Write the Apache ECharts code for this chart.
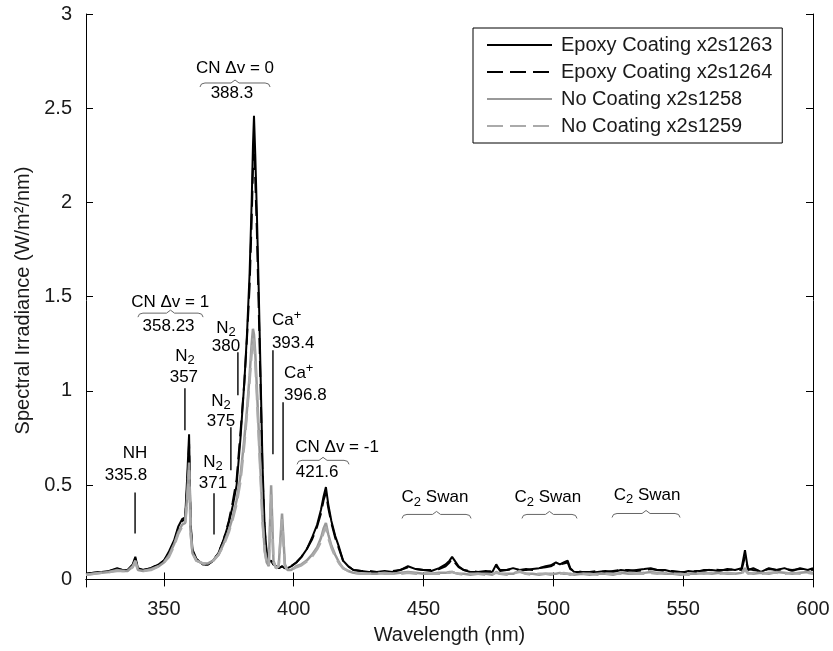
<!DOCTYPE html>
<html>
<head>
<meta charset="utf-8">
<script src="https://cdn.jsdelivr.net/npm/echarts@6/dist/echarts.min.js"></script>
<style>
  html, body { margin: 0; padding: 0; background: #fff; }
  #chart { width: 833px; height: 651px; }
</style>
</head>
<body>
<div id="chart"></div>
<script>
  // wavelength grid (nm), shared by all four spectra
  var wavelength = [
    320, 323, 326, 329, 332, 334, 336, 338, 339, 340,
    342, 345, 348, 350, 352, 354, 355.5, 357, 358.2, 359,
    359.7, 360.3, 361, 362.5, 365, 367, 369, 371, 373, 375,
    376.5, 378, 379.5, 381, 382, 383, 383.8, 384.3, 384.7, 385.2,
    385.8, 386.5, 387.3, 388, 388.8, 389.6, 390.4, 391.3, 392.2, 393.2,
    394.2, 395.5, 396.6, 397.6, 399, 401, 403, 405, 407, 409,
    410.5, 411.5, 412.4, 413.3, 414.5, 416, 417.5, 419, 421, 423,
    426, 429, 432, 435, 438, 441, 444, 447, 450, 453,
    456, 458.5, 460, 461, 462, 463.5, 465.5, 468, 471, 474,
    476.5, 478, 479.5, 482, 484.5, 487, 489.5, 492, 494.5, 497,
    499, 501, 502.5, 504, 505.5, 506.5, 508, 511, 514, 517,
    520, 523, 526, 529, 532, 535, 537.5, 540, 543, 546,
    549, 552, 555, 558, 561, 564, 567, 570, 572.5, 573.8,
    575, 577, 580, 583, 586, 589, 592, 595, 598, 600
  ];

  var epoxy1263 = [
    0.03, 0.035, 0.04, 0.045, 0.06, 0.05, 0.05, 0.08, 0.12, 0.06,
    0.05, 0.06, 0.08, 0.10, 0.15, 0.21, 0.28, 0.32, 0.33, 0.55,
    0.77, 0.30, 0.16, 0.11, 0.08, 0.08, 0.10, 0.14, 0.21, 0.30,
    0.39, 0.50, 0.75, 1.05, 1.30, 1.62, 2.00, 2.30, 2.46, 2.25,
    1.95, 1.55, 1.05, 0.60, 0.28, 0.14, 0.09, 0.10, 0.08, 0.07,
    0.06, 0.07, 0.06, 0.06, 0.07, 0.09, 0.12, 0.16, 0.22, 0.29,
    0.37, 0.44, 0.49, 0.40, 0.31, 0.23, 0.17, 0.10, 0.07, 0.05,
    0.045, 0.04, 0.04, 0.045, 0.04, 0.05, 0.07, 0.055, 0.05, 0.045,
    0.06, 0.08, 0.10, 0.12, 0.10, 0.07, 0.05, 0.04, 0.04, 0.045,
    0.04, 0.08, 0.045, 0.05, 0.06, 0.05, 0.05, 0.055, 0.06, 0.07,
    0.075, 0.09, 0.08, 0.09, 0.10, 0.06, 0.04, 0.04, 0.035, 0.04,
    0.045, 0.04, 0.05, 0.045, 0.05, 0.055, 0.06, 0.05, 0.05, 0.04,
    0.035, 0.045, 0.04, 0.05, 0.05, 0.045, 0.055, 0.05, 0.06, 0.155,
    0.05, 0.06, 0.04, 0.06, 0.05, 0.06, 0.045, 0.06, 0.05, 0.06
  ];

  var epoxy1264 = [
    0.03, 0.035, 0.04, 0.045, 0.055, 0.05, 0.05, 0.075, 0.11, 0.055,
    0.05, 0.06, 0.08, 0.10, 0.14, 0.20, 0.27, 0.31, 0.32, 0.50,
    0.72, 0.28, 0.15, 0.105, 0.08, 0.08, 0.10, 0.14, 0.21, 0.31,
    0.41, 0.53, 0.78, 1.05, 1.28, 1.55, 1.90, 2.18, 2.30, 2.12,
    1.85, 1.45, 0.98, 0.55, 0.26, 0.13, 0.09, 0.10, 0.08, 0.07,
    0.06, 0.07, 0.06, 0.06, 0.07, 0.09, 0.12, 0.16, 0.21, 0.28,
    0.35, 0.42, 0.46, 0.38, 0.30, 0.22, 0.16, 0.10, 0.07, 0.05,
    0.045, 0.045, 0.04, 0.04, 0.045, 0.05, 0.065, 0.055, 0.05, 0.05,
    0.055, 0.07, 0.09, 0.11, 0.09, 0.065, 0.05, 0.045, 0.04, 0.04,
    0.045, 0.07, 0.05, 0.05, 0.055, 0.05, 0.055, 0.05, 0.06, 0.065,
    0.07, 0.085, 0.08, 0.085, 0.09, 0.055, 0.045, 0.04, 0.04, 0.045,
    0.04, 0.045, 0.05, 0.05, 0.045, 0.05, 0.055, 0.05, 0.045, 0.045,
    0.04, 0.04, 0.045, 0.045, 0.055, 0.05, 0.05, 0.055, 0.05, 0.12,
    0.055, 0.05, 0.045, 0.055, 0.05, 0.055, 0.05, 0.055, 0.055, 0.05
  ];

  var bare1258 = [
    0.025, 0.03, 0.035, 0.04, 0.05, 0.045, 0.045, 0.07, 0.10, 0.05,
    0.045, 0.055, 0.07, 0.09, 0.13, 0.19, 0.25, 0.29, 0.30, 0.45,
    0.62, 0.25, 0.14, 0.10, 0.085, 0.085, 0.10, 0.13, 0.19, 0.26,
    0.33, 0.42, 0.55, 0.75, 0.90, 1.08, 1.25, 1.33, 1.30, 1.20,
    1.02, 0.80, 0.55, 0.32, 0.16, 0.09, 0.07, 0.50, 0.10, 0.06,
    0.07, 0.35, 0.08, 0.05, 0.05, 0.07, 0.08, 0.10, 0.13, 0.17,
    0.22, 0.27, 0.30, 0.24, 0.18, 0.13, 0.09, 0.06, 0.045, 0.035,
    0.03, 0.03, 0.03, 0.035, 0.03, 0.035, 0.04, 0.035, 0.03, 0.03,
    0.035, 0.035, 0.04, 0.04, 0.035, 0.03, 0.03, 0.025, 0.03, 0.03,
    0.025, 0.04, 0.03, 0.03, 0.03, 0.045, 0.03, 0.03, 0.025, 0.03,
    0.03, 0.03, 0.035, 0.03, 0.03, 0.03, 0.025, 0.03, 0.025, 0.03,
    0.03, 0.025, 0.035, 0.03, 0.03, 0.035, 0.04, 0.035, 0.03, 0.03,
    0.025, 0.03, 0.03, 0.035, 0.03, 0.035, 0.03, 0.03, 0.035, 0.06,
    0.035, 0.03, 0.035, 0.03, 0.04, 0.035, 0.03, 0.035, 0.04, 0.035
  ];

  var bare1259 = [
    0.025, 0.03, 0.035, 0.04, 0.045, 0.045, 0.045, 0.065, 0.095, 0.05,
    0.045, 0.05, 0.07, 0.09, 0.12, 0.18, 0.24, 0.28, 0.29, 0.42,
    0.58, 0.24, 0.14, 0.10, 0.085, 0.085, 0.10, 0.13, 0.18, 0.25,
    0.32, 0.40, 0.52, 0.72, 0.88, 1.05, 1.20, 1.28, 1.26, 1.15,
    0.98, 0.76, 0.52, 0.30, 0.15, 0.09, 0.07, 0.45, 0.09, 0.06,
    0.07, 0.32, 0.07, 0.05, 0.05, 0.065, 0.075, 0.095, 0.12, 0.16,
    0.20, 0.25, 0.28, 0.22, 0.17, 0.12, 0.085, 0.06, 0.045, 0.035,
    0.03, 0.03, 0.035, 0.03, 0.03, 0.03, 0.035, 0.03, 0.035, 0.03,
    0.03, 0.035, 0.035, 0.04, 0.035, 0.03, 0.025, 0.03, 0.03, 0.025,
    0.03, 0.035, 0.03, 0.025, 0.035, 0.04, 0.03, 0.025, 0.03, 0.03,
    0.025, 0.03, 0.03, 0.035, 0.03, 0.025, 0.03, 0.03, 0.03, 0.025,
    0.03, 0.03, 0.03, 0.035, 0.03, 0.03, 0.035, 0.03, 0.035, 0.03,
    0.03, 0.025, 0.035, 0.03, 0.035, 0.03, 0.035, 0.03, 0.03, 0.05,
    0.03, 0.035, 0.03, 0.035, 0.035, 0.03, 0.035, 0.03, 0.035, 0.03
  ];

  var seriesNames = [
    'Epoxy Coating x2s1263', 'Epoxy Coating x2s1264',
    'No Coating x2s1258', 'No Coating x2s1259'
  ];

  var xTicks = [350, 400, 450, 500, 550, 600];
  var yTicks = [0, 0.5, 1, 1.5, 2, 2.5, 3];

  // line identifications (text placed in data coordinates)
  var labelText = [
    '{t|CN Δv = 0}', '{t|388.3}', '{t|CN Δv = 1}', '{t|358.23}',
    '{t|N}{sub|2}', '{t|357}', '{t|N}{sub|2}', '{t|380}',
    '{t|N}{sub|2}', '{t|375}', '{t|N}{sub|2}', '{t|371}',
    '{t|NH}', '{t|335.8}', '{t|Ca}{sup|+}', '{t|393.4}',
    '{t|Ca}{sup|+}', '{t|396.8}', '{t|CN Δv = -1}', '{t|421.6}',
    '{t|C}{sub|2}{t| Swan}', '{t|C}{sub|2}{t| Swan}', '{t|C}{sub|2}{t| Swan}'
  ];
  var labelX = [
    377.4, 376.2, 352.4, 351.8,
    358.1, 357.7, 373.9, 373.9,
    372.0, 372.0, 368.9, 368.9,
    338.9, 335.4, 391.6, 391.6,
    396.3, 396.3, 416.7, 409.0,
    454.4, 497.9, 536.1
  ];
  var labelY = [
    2.714, 2.581, 1.471, 1.344,
    1.184, 1.073, 1.333, 1.237,
    0.945, 0.839, 0.621, 0.510,
    0.669, 0.552, 1.375, 1.253,
    1.094, 0.977, 0.701, 0.568,
    0.435, 0.435, 0.446
  ];
  var labelAlign = [
    'center', 'center', 'center', 'center',
    'center', 'center', 'center', 'center',
    'center', 'center', 'center', 'center',
    'center', 'center', 'left', 'left',
    'left', 'left', 'center', 'center',
    'center', 'center', 'center'
  ];

  // pointer lines
  var markerX = [338.9, 358.1, 369.3, 375.8, 378.5, 392.0, 395.9];
  var markerTop = [0.462, 1.014, 0.457, 0.807, 1.206, 1.216, 0.940];
  var markerBottom = [0.244, 0.791, 0.239, 0.579, 0.977, 0.664, 0.526];

  // band braces
  var braceFrom = [363.9, 340.0, 401.3, 441.7, 487.9, 522.6];
  var braceTo = [390.9, 365.1, 421.3, 468.3, 509.1, 548.8];
  var braceY = [2.634, 1.413, 0.632, 0.345, 0.345, 0.35];

  var FONT = 'Liberation Sans, Arial, Helvetica, sans-serif';

  function pairs(ys) {
    return wavelength.map(function (w, i) { return [w, ys[i]]; });
  }

  var chart = echarts.init(document.getElementById('chart'));

  var annoRich = {
    t: { fontFamily: FONT, fontSize: 17, color: '#222', lineHeight: 22 },
    sub: { fontFamily: FONT, fontSize: 13, color: '#222', lineHeight: 12, verticalAlign: 'bottom' },
    sup: { fontFamily: FONT, fontSize: 13, color: '#222', lineHeight: 12, verticalAlign: 'top' }
  };

  function lineSeries(name, ys, color, width, dashed) {
    return {
      name: name,
      type: 'line',
      data: pairs(ys),
      symbol: 'none',
      showSymbol: false,
      animation: false,
      itemStyle: { color: color },
      lineStyle: { color: color, width: width, type: dashed ? [16, 7] : 'solid' }
    };
  }

  var option = {
    backgroundColor: '#fff',
    animation: false,
    textStyle: { fontFamily: FONT },
    grid: { left: 86, right: 20, top: 14, bottom: 64 },
    legend: {
      orient: 'vertical',
      left: 473,
      top: 28,
      width: 327,
      padding: [7, 10, 7, 13],
      itemWidth: 65,
      itemHeight: 20,
      itemGap: 7,
      borderColor: '#000',
      borderWidth: 1,
      backgroundColor: '#fff',
      itemStyle: { color: 'rgba(0,0,0,0)', borderWidth: 0, opacity: 0 },
      textStyle: { fontFamily: FONT, fontSize: 20, color: '#1a1a1a', padding: [0, 0, 0, 4] },
      data: seriesNames
    },
    xAxis: [{
      type: 'value',
      min: 320,
      max: 600,
      name: 'Wavelength (nm)',
      nameLocation: 'middle',
      nameGap: 38,
      nameTextStyle: { fontFamily: FONT, fontSize: 20, color: '#1a1a1a' },
      axisLine: { lineStyle: { color: '#000', width: 1 } },
      axisTick: { inside: true, length: 7, customValues: xTicks, lineStyle: { color: '#000' } },
      axisLabel: { customValues: xTicks, margin: 12, fontFamily: FONT, fontSize: 20, color: '#1a1a1a' },
      splitLine: { show: false }
    }, {
      type: 'value',
      position: 'top',
      min: 320,
      max: 600,
      axisLine: { lineStyle: { color: '#000', width: 1 } },
      axisTick: { inside: true, length: 7, customValues: xTicks, lineStyle: { color: '#000' } },
      axisLabel: { show: false },
      splitLine: { show: false }
    }],
    yAxis: [{
      type: 'value',
      min: -0.04,
      max: 3,
      name: 'Spectral Irradiance (W/m²/nm)',
      nameLocation: 'middle',
      nameGap: 42,
      nameTextStyle: { fontFamily: FONT, fontSize: 20, color: '#1a1a1a' },
      axisLine: { show: true, lineStyle: { color: '#000', width: 1 } },
      axisTick: { show: true, inside: true, length: 7, customValues: yTicks, lineStyle: { color: '#000' } },
      axisLabel: { customValues: yTicks, margin: 14, fontFamily: FONT, fontSize: 20, color: '#1a1a1a' },
      splitLine: { show: false }
    }, {
      type: 'value',
      position: 'right',
      min: -0.04,
      max: 3,
      axisLine: { show: true, lineStyle: { color: '#000', width: 1 } },
      axisTick: { show: true, inside: true, length: 7, customValues: yTicks, lineStyle: { color: '#000' } },
      axisLabel: { show: false },
      splitLine: { show: false }
    }],
    series: [
      lineSeries(seriesNames[0], epoxy1263, '#000', 2, false),
      lineSeries(seriesNames[1], epoxy1264, '#000', 2, true),
      lineSeries(seriesNames[2], bare1258, '#999', 2.5, false),
      lineSeries(seriesNames[3], bare1259, '#aaa', 2.5, true),
      {
        // identification text
        type: 'custom',
        silent: true,
        animation: false,
        clip: false,
        encode: { x: 0, y: 1 },
        data: labelX.map(function (x, i) { return [x, labelY[i], i]; }),
        renderItem: function (params, api) {
          var i = api.value(2);
          var p = api.coord([api.value(0), api.value(1)]);
          return {
            type: 'text',
            x: p[0],
            y: p[1],
            style: {
              text: labelText[i],
              rich: annoRich,
              align: labelAlign[i],
              verticalAlign: 'middle'
            }
          };
        }
      },
      {
        // pointer lines
        type: 'custom',
        silent: true,
        animation: false,
        clip: false,
        encode: { x: 0, y: [1, 2] },
        data: markerX.map(function (x, i) { return [x, markerTop[i], markerBottom[i]]; }),
        renderItem: function (params, api) {
          var a = api.coord([api.value(0), api.value(1)]);
          var b = api.coord([api.value(0), api.value(2)]);
          return {
            type: 'line',
            shape: { x1: a[0], y1: a[1], x2: b[0], y2: b[1] },
            style: { stroke: '#111', lineWidth: 1.5 }
          };
        }
      },
      {
        // braces over the band labels
        type: 'custom',
        silent: true,
        animation: false,
        clip: false,
        encode: { x: [0, 1], y: 2 },
        data: braceFrom.map(function (x, i) { return [x, braceTo[i], braceY[i]]; }),
        renderItem: function (params, api) {
          var a = api.coord([api.value(0), api.value(2)]);
          var b = api.coord([api.value(1), api.value(2)]);
          var y = a[1], x1 = a[0], x2 = b[0], xm = (x1 + x2) / 2;
          return {
            type: 'polyline',
            shape: {
              points: [
                [x1, y + 4], [x1 + 1.5, y + 1], [x1 + 5, y],
                [xm - 4, y], [xm, y - 3], [xm + 4, y],
                [x2 - 5, y], [x2 - 1.5, y + 1], [x2, y + 4]
              ]
            },
            style: { stroke: '#666', lineWidth: 1, fill: null }
          };
        }
      }
    ]
  };

  chart.setOption(option);
</script>
</body>
</html>
